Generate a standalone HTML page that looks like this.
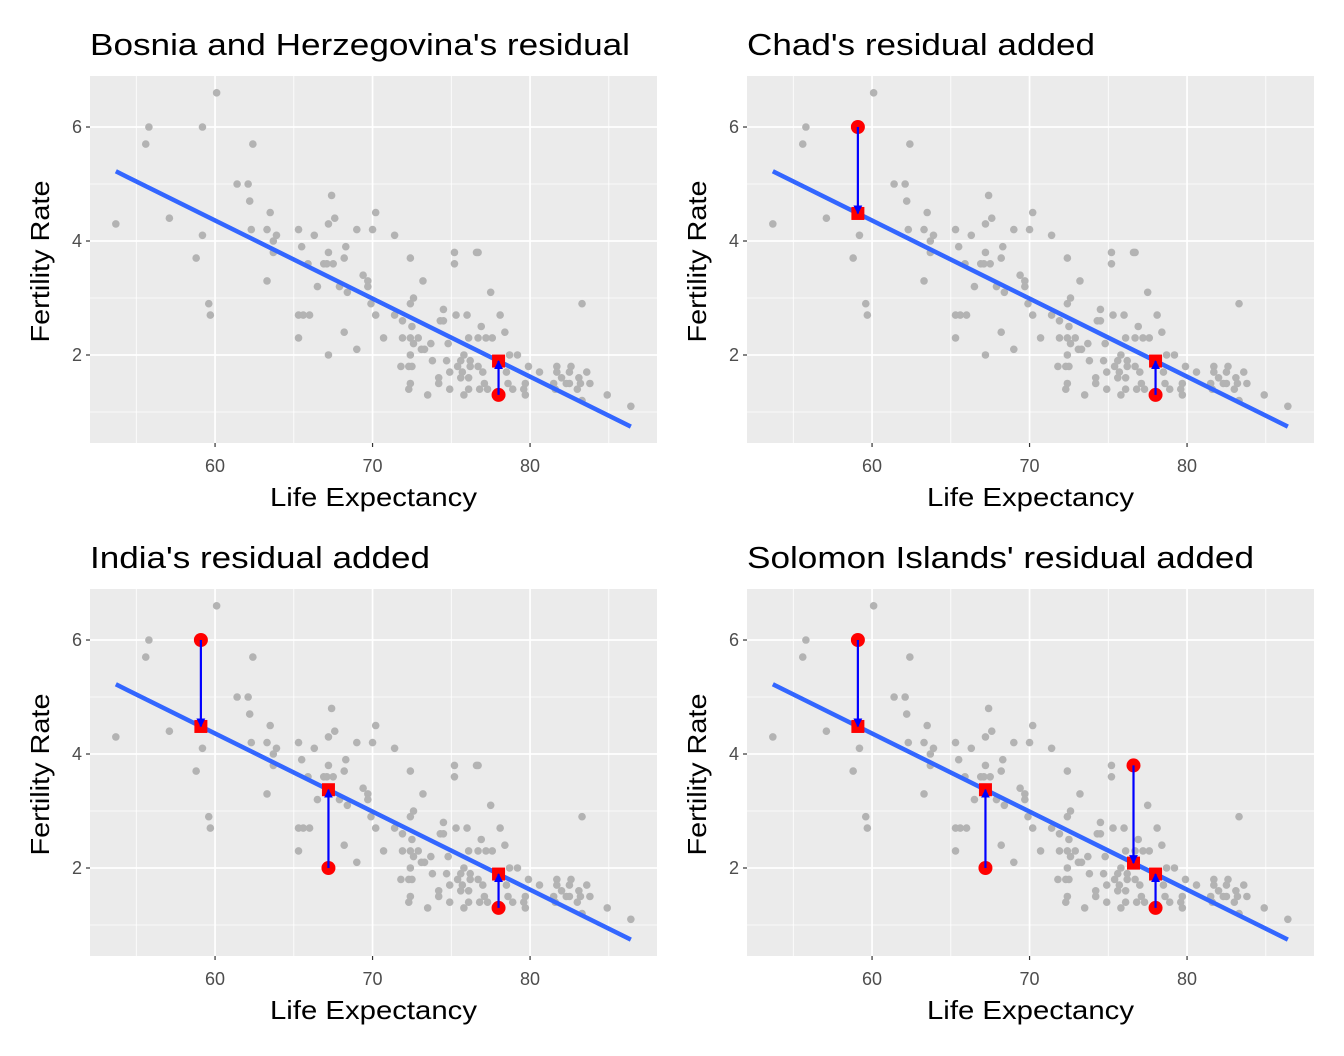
<!DOCTYPE html>
<html><head><meta charset="utf-8"><style>
html,body{margin:0;padding:0;background:#fff;}
svg{display:block;font-family:"Liberation Sans",Arial,sans-serif;}
</style></head><body>
<svg id="chart" width="1344" height="1056" viewBox="0 0 1344 1056" xmlns="http://www.w3.org/2000/svg"></svg>
<script>
const lifeExp = [53.7,55.8,55.6,60.1,59.2,62.4,57.1,59.2,58.8,59.6,59.7,61.4,62.1,62.2,63.5,62.3,63.3,63.9,63.7,63.7,63.3,65.3,66.3,65.5,65.9,66.9,67.1,67.5,67.4,67.2,67.6,67.2,68.3,68.2,66.5,67.9,68.4,69.0,70.0,70.2,69.4,69.7,69.7,69.9,70.2,65.3,65.6,66.0,65.3,68.2,69.0,67.2,
71.4,72.4,75.2,76.7,75.2,73.2,77.5,72.6,72.4,83.3,74.5,71.4,75.3,76.0,78.1,71.9,74.3,74.5,72.5,76.9,78.4,
70.7,71.9,72.4,72.9,76.1,76.7,77.2,77.6,72.6,73.7,74.8,73.1,73.3,72.4,75.8,78.7,79.2,73.8,74.7,75.6,76.2,
71.8,72.3,72.5,75.4,76.2,76.7,79.9,81.7,82.6,74.9,75.7,77.0,78.5,80.6,81.7,82.5,83.6,83.1,74.2,75.6,76.1,82.0,
72.4,74.2,77.1,78.6,79.7,81.5,82.3,82.5,83.2,83.8,72.3,74.9,76.1,76.8,77.3,78.9,79.6,81.6,83.0,73.5,75.8,79.7,84.9,83.3,86.4,78.0,76.6];
const fertility = [4.3,6.0,5.7,6.6,6.0,5.7,4.4,4.1,3.7,2.9,2.7,5.0,5.0,4.7,4.5,4.2,4.2,4.1,4.0,3.8,3.3,4.2,4.1,3.9,3.6,3.6,3.6,3.6,4.8,4.3,4.4,3.8,3.9,3.7,3.2,3.2,3.1,4.2,4.2,4.5,3.4,3.3,3.2,2.9,2.7,2.7,2.7,2.7,2.3,2.4,2.1,2.0,
4.1,3.7,3.8,3.8,3.6,3.3,3.1,3.0,2.9,2.9,2.8,2.7,2.7,2.7,2.7,2.6,2.6,2.6,2.5,2.5,2.4,
2.3,2.3,2.3,2.3,2.3,2.3,2.3,2.3,2.2,2.2,2.2,2.1,2.1,2.0,2.0,2.0,2.0,1.9,1.9,1.9,1.9,
1.8,1.8,1.8,1.8,1.8,1.8,1.8,1.8,1.8,1.7,1.7,1.7,1.7,1.7,1.7,1.7,1.7,1.6,1.6,1.6,1.6,1.6,
1.5,1.5,1.5,1.5,1.5,1.5,1.5,1.5,1.5,1.5,1.4,1.4,1.4,1.4,1.4,1.4,1.4,1.4,1.4,1.3,1.3,1.3,1.3,1.2,1.1,1.3,3.8];
const highlightNames = ["Bosnia and Herzegovina","Chad","India","Solomon Islands"];
const highlightX = [78.0,59.1,67.2,76.6];
const highlightY = [1.3,6.0,2.0,3.8];
const panelTitles = ["Bosnia and Herzegovina's residual","Chad's residual added","India's residual added","Solomon Islands' residual added"];
const titleWidths = [540,348,340,507];
const fitIntercept = 12.58;
const fitSlope = -0.137;
const xTicks = [60,70,80];
const yTicks = [2,4,6];
const xMinor = [55,65,75,85];
const yMinor = [1,3,5];

const svg = document.getElementById('chart');
const NS = 'http://www.w3.org/2000/svg';
function mk(tag, attrs, parent){const e=document.createElementNS(NS,tag);for(const k in attrs)e.setAttribute(k,attrs[k]);parent.appendChild(e);return e;}
const defs = mk('defs',{},svg);
const mrk = mk('marker',{id:'ah',viewBox:'0 0 10 10',refX:'9',refY:'5',markerWidth:'4',markerHeight:'4',orient:'auto'},defs);
mk('path',{d:'M0,0 L10,5 L0,10 z',fill:'#0000ff'},mrk);

const xDom=[52.06,88.06], yDom=[0.456,6.895];
const panels=[[90,76],[747,76],[90,589],[747,589]];
const PW=567, PH=367;
const slug=s=>s.toLowerCase().replace(/[^a-z]+/g,'-').replace(/^-|-$/g,'');
const fit=x=>fitIntercept+fitSlope*x;

panels.forEach((p,pi)=>{
  const [L,T]=p;
  const sx=v=>L+(v-xDom[0])/(xDom[1]-xDom[0])*PW;
  const sy=v=>T+PH-(v-yDom[0])/(yDom[1]-yDom[0])*PH;
  const g=mk('g',{},svg);
  
  
  const bg=mk('rect',{x:L,y:T,width:PW,height:PH,fill:'#ebebeb'},g);
  
  
  xMinor.forEach(v=>mk('line',{x1:sx(v),x2:sx(v),y1:T,y2:T+PH,stroke:'#fff','stroke-width':0.8},g));
  yMinor.forEach(v=>mk('line',{x1:L,x2:L+PW,y1:sy(v),y2:sy(v),stroke:'#fff','stroke-width':0.8},g));
  xTicks.forEach(v=>{
    mk('line',{x1:sx(v),x2:sx(v),y1:T,y2:T+PH,stroke:'#fff','stroke-width':1.7},g);
    mk('line',{x1:sx(v),x2:sx(v),y1:T+PH,y2:T+PH+4,stroke:'#333','stroke-width':1.2},g);
    const t=mk('text',{x:sx(v),y:T+PH+29,'text-anchor':'middle','font-size':18,fill:'#4d4d4d'},g);
    t.textContent=v;
    
    
  });
  yTicks.forEach(v=>{
    mk('line',{x1:L,x2:L+PW,y1:sy(v),y2:sy(v),stroke:'#fff','stroke-width':1.7},g);
    mk('line',{x1:L-4,x2:L,y1:sy(v),y2:sy(v),stroke:'#333','stroke-width':1.2},g);
    const t=mk('text',{x:L-8,y:sy(v)+6,'text-anchor':'end','font-size':18,fill:'#4d4d4d'},g);
    t.textContent=v;
    
    
  });
  lifeExp.forEach((x,i)=>{
    const c=mk('circle',{cx:sx(x),cy:sy(fertility[i]),r:3.8,fill:'#b3b3b3'},g);
    
    
  });
  const x0=Math.min(...lifeExp), x1=Math.max(...lifeExp);
  const fl=mk('line',{x1:sx(x0),y1:sy(fit(x0)),x2:sx(x1),y2:sy(fit(x1)),stroke:'#3366ff','stroke-width':4.5},g);
  
  
  for(let k=0;k<=pi;k++){
    const hx=highlightX[k], hy=highlightY[k], fy=fit(hx);
    const sq=mk('rect',{x:sx(hx)-6.5,y:sy(fy)-6.5,width:13,height:13,fill:'#ff0000'},g);
    
    
    const c=mk('circle',{cx:sx(hx),cy:sy(hy),r:7,fill:'#ff0000'},g);
    
    
    const a=mk('line',{x1:sx(hx),y1:sy(hy),x2:sx(hx),y2:sy(fy),stroke:'#0000ff','stroke-width':2.2,'marker-end':'url(#ah)'},g);
    
    
  }
  const tt=mk('text',{x:L,y:T-21,'font-size':31,fill:'#000',textLength:titleWidths[pi],lengthAdjust:'spacingAndGlyphs'},g);
  tt.textContent=panelTitles[pi];
  
  
  const xt=mk('text',{x:L+PW/2,y:T+PH+63,'text-anchor':'middle','font-size':26,fill:'#000',textLength:207,lengthAdjust:'spacingAndGlyphs'},g);
  xt.textContent='Life Expectancy';
  
  
  const yt=mk('text',{x:0,y:0,'text-anchor':'middle','font-size':26,fill:'#000',textLength:162,lengthAdjust:'spacingAndGlyphs',transform:`translate(${L-41},${T+PH/2+2}) rotate(-90)`},g);
  yt.textContent='Fertility Rate';
  
  
});
</script>
</body></html>
